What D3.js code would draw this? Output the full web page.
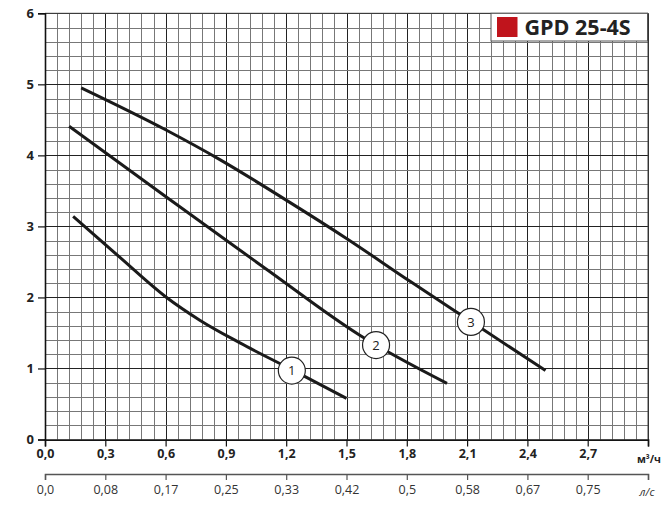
<!DOCTYPE html>
<html><head><meta charset="utf-8">
<script src="https://cdn.jsdelivr.net/npm/d3@7"></script>
<style>body{margin:0;background:#fff;}svg{display:block;font-family:"Open Sans",sans-serif;}</style>
</head><body><svg id="c" width="662" height="528"></svg>
<script>
// Data (flow Q in m³/h, head H in m)
const curve1Q = [0.14, 0.37, 0.60, 0.77, 0.97, 1.23, 1.50];
const curve1H = [3.14, 2.57, 2.01, 1.68, 1.36, 0.98, 0.58];
const curve2Q = [0.12, 0.60, 1.10, 1.57, 2.00];
const curve2H = [4.41, 3.42, 2.40, 1.46, 0.79];
const curve3Q = [0.18, 0.60, 0.87, 1.20, 1.50, 1.82, 2.12, 2.49];
const curve3H = [4.95, 4.36, 3.94, 3.37, 2.83, 2.22, 1.66, 0.97];
const markerLabels = ["1", "2", "3"];
const markerQ = [1.228, 1.647, 2.119];
const markerH = [0.97, 1.33, 1.655];
const yTicks = [0, 1, 2, 3, 4, 5, 6];
const xTicks = [0, 0.3, 0.6, 0.9, 1.2, 1.5, 1.8, 2.1, 2.4, 2.7, 3.0];
const xTickLabels = ["0,0","0,3","0,6","0,9","1,2","1,5","1,8","2,1","2,4","2,7",""];
const lsTickLabels = ["0,0","0,08","0,17","0,25","0,33","0,42","0,5","0,58","0,67","0,75",""];
const unitTop = "м³/ч";
const unitBottom = "л/с";
const title = "GPD 25-4S";

const svg = d3.select("#c");
const L = 45, R = 648, T = 13.3, B = 439.5;
const x = d3.scaleLinear().domain([0, 3]).range([L, R]);
const y = d3.scaleLinear().domain([0, 6]).range([B, T]);

// grid
const g = svg.append("g");
const vMinor = d3.range(0, 3.0001, 0.06);
g.selectAll(".vg").data(vMinor).enter().append("line")
  .attr("x1", d => Math.round(x(d)) + 0.5).attr("x2", d => Math.round(x(d)) + 0.5)
  .attr("y1", T).attr("y2", B)
  .attr("stroke", (d, i) => i % 5 === 0 ? "#222" : "#777").attr("stroke-width", 1);
const hMinor = d3.range(0, 6.0001, 0.2);
g.selectAll(".hg").data(hMinor).enter().append("line")
  .attr("y1", d => Math.round(y(d)) + 0.5).attr("y2", d => Math.round(y(d)) + 0.5)
  .attr("x1", L).attr("x2", R)
  .attr("stroke", (d, i) => i % 5 === 0 ? "#222" : "#777").attr("stroke-width", 1);

// border
svg.append("line").attr("x1", L).attr("x2", R).attr("y1", T).attr("y2", T).attr("stroke", "#444");
svg.append("line").attr("x1", R).attr("x2", R).attr("y1", T).attr("y2", B).attr("stroke", "#444");

// y axis
const yAxis = d3.axisLeft(y).tickValues(yTicks).tickSize(7).tickPadding(4).tickFormat(d3.format("d"));
const ya = svg.append("g").attr("transform", `translate(${L},0)`).call(yAxis);
ya.select(".domain").attr("stroke", "#111").attr("stroke-width", 1.6);
ya.selectAll(".tick line").attr("stroke", "#111").attr("stroke-width", 1.2);
ya.selectAll("text").attr("font-size", 13).attr("font-weight", "bold").attr("fill", "#222")
  .attr("font-family", "Open Sans");

// x axis (m³/h)
const xAxis = d3.axisBottom(x).tickValues(xTicks).tickSize(7).tickPadding(3)
  .tickFormat((d, i) => xTickLabels[i]);
const xa = svg.append("g").attr("transform", `translate(0,${B})`).call(xAxis);
xa.select(".domain").attr("stroke", "#111").attr("stroke-width", 1.6);
xa.selectAll(".tick line").attr("stroke", "#111").attr("stroke-width", 1.2);
xa.selectAll("text").attr("font-size", 12.5).attr("font-weight", "bold").attr("fill", "#222")
  .attr("font-family", "Open Sans");
svg.append("text").attr("x", 661).attr("y", 463).attr("text-anchor", "end")
  .attr("font-size", 10.5).attr("font-weight", "bold").attr("fill", "#222").text(unitTop);

// second x axis (l/s)
const xAxis2 = d3.axisBottom(x).tickValues(xTicks).tickSize(6).tickPadding(5)
  .tickFormat((d, i) => lsTickLabels[i]);
const xb = svg.append("g").attr("transform", `translate(0,474)`).call(xAxis2);
xb.select(".domain").attr("stroke", "#555").attr("stroke-width", 1.5);
xb.selectAll(".tick line").attr("stroke", "#555").attr("stroke-width", 1.2);
xb.selectAll("text").attr("font-size", 12.5).attr("fill", "#333").attr("font-family", "Open Sans");
svg.append("text").attr("x", 647).attr("y", 496).attr("text-anchor", "middle")
  .attr("font-size", 11).attr("font-style", "italic").attr("fill", "#333").text(unitBottom);

// curves
const line = d3.line().x(d => x(d[0])).y(d => y(d[1])).curve(d3.curveMonotoneX);
[[curve1Q, curve1H], [curve2Q, curve2H], [curve3Q, curve3H]].forEach(([q, h]) => {
  svg.append("path").datum(q.map((v, i) => [v, h[i]]))
    .attr("d", line).attr("fill", "none").attr("stroke", "#1a1a1a")
    .attr("stroke-width", 3).attr("stroke-linecap", "butt");
});

// markers
const m = svg.selectAll(".mk").data(markerLabels).enter().append("g")
  .attr("transform", (d, i) => `translate(${x(markerQ[i])},${y(markerH[i])})`);
m.append("circle").attr("r", 13.5).attr("fill", "#fff").attr("stroke", "#222").attr("stroke-width", 1.2);
m.append("text").attr("text-anchor", "middle").attr("dy", "0.36em").attr("font-size", 13)
  .attr("fill", "#222").text(d => d);

// legend box
svg.append("rect").attr("x", 491).attr("y", 13.3).attr("width", 156.5).attr("height", 27.7)
  .attr("fill", "#fff").attr("stroke", "#555").attr("stroke-width", 1);
svg.append("rect").attr("x", 497).attr("y", 17).attr("width", 20.5).attr("height", 20)
  .attr("fill", "#c0141c");
svg.append("text").attr("x", 524.5).attr("y", 35).attr("font-size", 21.5).attr("font-weight", "bold")
  .attr("fill", "#222").text(title);
</script></body></html>
